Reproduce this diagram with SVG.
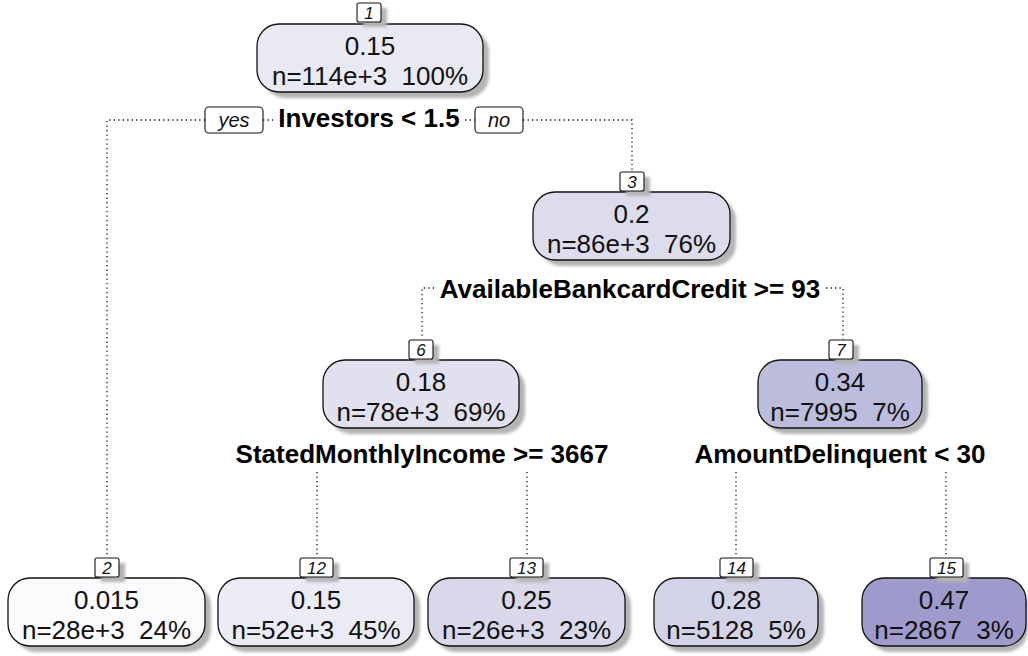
<svg xmlns="http://www.w3.org/2000/svg" width="1028" height="656" viewBox="0 0 1028 656">
<defs>
<filter id="sh" x="-10%" y="-10%" width="130%" height="140%">
<feGaussianBlur stdDeviation="1.6"/>
</filter>
</defs>
<style>
.box{stroke:#111;stroke-width:1.3}
.shadow{fill:#b4b4b4;filter:url(#sh)}
.lab{fill:#fff;stroke:#111;stroke-width:1.1}
.t{font-family:"Liberation Sans",Arial,sans-serif;font-size:26px;fill:#111;text-anchor:middle;white-space:pre}
.num{font-family:"Liberation Sans",Arial,sans-serif;font-size:17px;font-style:italic;fill:#111;text-anchor:middle}
.split{font-family:"Liberation Sans",Arial,sans-serif;font-size:26px;font-weight:bold;fill:#000;text-anchor:middle}
.yn{font-family:"Liberation Sans",Arial,sans-serif;font-size:20px;font-style:italic;fill:#111;text-anchor:middle}
.con{fill:none;stroke:#111;stroke-width:1.3;stroke-dasharray:1.3 3.2}
</style>
<rect width="1028" height="656" fill="#fff"/>

<g id="connectors">
<path class="con" d="M205,120 H107 V557"/>
<path class="con" d="M263,120 H273"/>
<path class="con" d="M465,120 H475"/>
<path class="con" d="M523,120 H632 V172"/>
<path class="con" d="M434,288 H422 V339"/>
<path class="con" d="M826,288 H843 V339"/>
<path class="con" d="M317,472 V557"/>
<path class="con" d="M527,472 V557"/>
<path class="con" d="M736,472 V557"/>
<path class="con" d="M946,472 V557"/>
</g>

<g id="node1">
<rect class="shadow" x="263" y="30" width="226" height="68" rx="22"/>
<rect class="box" x="257" y="24" width="226" height="68" rx="22" fill="#e9e9f3"/>
<text class="t" x="370" y="55">0.15</text>
<text class="t" x="370" y="85">n=114e+3  100%</text>
<rect class="shadow" x="363" y="8" width="24" height="19"/>
<rect class="lab" x="357" y="3" width="24" height="19" rx="2"/>
<text class="num" x="369" y="19">1</text>
</g>

<g id="split1">
<rect class="lab" x="205" y="107" width="58" height="26" rx="4"/>
<text class="yn" x="234" y="127">yes</text>
<text class="split" x="369" y="127">Investors &lt; 1.5</text>
<rect class="lab" x="475" y="107" width="48" height="26" rx="4"/>
<text class="yn" x="499" y="127">no</text>
</g>

<g id="node3">
<rect class="shadow" x="539" y="198" width="197" height="68" rx="22"/>
<rect class="box" x="533" y="192" width="197" height="68" rx="22" fill="#dcdcec"/>
<text class="t" x="631.5" y="223">0.2</text>
<text class="t" x="631.5" y="253">n=86e+3  76%</text>
<rect class="shadow" x="626" y="177" width="24" height="19"/>
<rect class="lab" x="620" y="172" width="24" height="19" rx="2"/>
<text class="num" x="632" y="188">3</text>
<text class="split" x="630" y="298">AvailableBankcardCredit &gt;= 93</text>
</g>

<g id="node6">
<rect class="shadow" x="329" y="366" width="196" height="68" rx="22"/>
<rect class="box" x="323" y="360" width="196" height="68" rx="22" fill="#e0e0ef"/>
<text class="t" x="421" y="391">0.18</text>
<text class="t" x="421" y="421">n=78e+3  69%</text>
<rect class="shadow" x="415" y="345" width="24" height="19"/>
<rect class="lab" x="409" y="340" width="24" height="19" rx="2"/>
<text class="num" x="421" y="356">6</text>
<text class="split" x="422" y="463">StatedMonthlyIncome &gt;= 3667</text>
</g>

<g id="node7">
<rect class="shadow" x="764" y="366" width="164" height="68" rx="22"/>
<rect class="box" x="758" y="360" width="164" height="68" rx="22" fill="#bcbddc"/>
<text class="t" x="840" y="391">0.34</text>
<text class="t" x="840" y="421">n=7995  7%</text>
<rect class="shadow" x="835" y="345" width="24" height="19"/>
<rect class="lab" x="829" y="340" width="24" height="19" rx="2"/>
<text class="num" x="841" y="356">7</text>
<text class="split" x="840" y="463">AmountDelinquent &lt; 30</text>
</g>

<g id="node2">
<rect class="shadow" x="14" y="584" width="197" height="68" rx="22"/>
<rect class="box" x="8" y="578" width="197" height="68" rx="22" fill="#fbfbfd"/>
<text class="t" x="106.5" y="609">0.015</text>
<text class="t" x="106.5" y="639">n=28e+3  24%</text>
<rect class="shadow" x="101" y="563" width="24" height="19"/>
<rect class="lab" x="95" y="558" width="24" height="19" rx="2"/>
<text class="num" x="107" y="574">2</text>
</g>

<g id="node12">
<rect class="shadow" x="224" y="584" width="196" height="68" rx="22"/>
<rect class="box" x="218" y="578" width="196" height="68" rx="22" fill="#ebebf5"/>
<text class="t" x="316" y="609">0.15</text>
<text class="t" x="316" y="639">n=52e+3  45%</text>
<rect class="shadow" x="306" y="563" width="33" height="19"/>
<rect class="lab" x="300" y="558" width="33" height="19" rx="2"/>
<text class="num" x="316.5" y="574">12</text>
</g>

<g id="node13">
<rect class="shadow" x="434" y="584" width="197" height="68" rx="22"/>
<rect class="box" x="428" y="578" width="197" height="68" rx="22" fill="#d8d8ea"/>
<text class="t" x="526.5" y="609">0.25</text>
<text class="t" x="526.5" y="639">n=26e+3  23%</text>
<rect class="shadow" x="516" y="563" width="33" height="19"/>
<rect class="lab" x="510" y="558" width="33" height="19" rx="2"/>
<text class="num" x="526.5" y="574">13</text>
</g>

<g id="node14">
<rect class="shadow" x="660" y="584" width="164" height="68" rx="22"/>
<rect class="box" x="654" y="578" width="164" height="68" rx="22" fill="#d3d3e8"/>
<text class="t" x="736" y="609">0.28</text>
<text class="t" x="736" y="639">n=5128  5%</text>
<rect class="shadow" x="726" y="563" width="33" height="19"/>
<rect class="lab" x="720" y="558" width="33" height="19" rx="2"/>
<text class="num" x="736.5" y="574">14</text>
</g>

<g id="node15">
<rect class="shadow" x="868" y="584" width="160" height="68" rx="22"/>
<rect class="box" x="862" y="578" width="164" height="68" rx="22" fill="#9e9acb"/>
<text class="t" x="944" y="609">0.47</text>
<text class="t" x="944" y="639">n=2867  3%</text>
<rect class="shadow" x="936" y="563" width="33" height="19"/>
<rect class="lab" x="930" y="558" width="33" height="19" rx="2"/>
<text class="num" x="946.5" y="574">15</text>
</g>
</svg>
